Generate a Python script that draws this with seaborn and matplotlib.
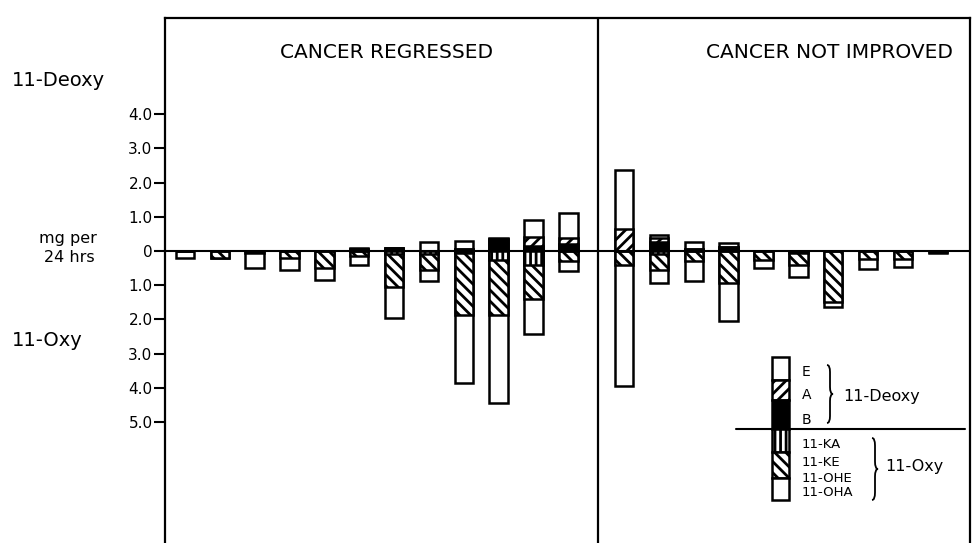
import numpy as np
import pandas as pd
import matplotlib
matplotlib.use("Agg")
import matplotlib.pyplot as plt
from matplotlib.patches import Rectangle, PathPatch
from matplotlib.path import Path
import seaborn as sns

# Urinary 17-ketosteroid fractions (mg per 24 hrs), one bar per patient.
# 11-Deoxy fractions (E, A, B) rise above zero, 11-Oxy fractions drop below.
regressed_E = [0, 0, 0, 0, 0, 0.05, 0, 0.25, 0.25, 0.03, 0.50, 0.74]
regressed_A = [0, 0, 0, 0, 0, 0, 0, 0, 0, 0, 0.25, 0.18]
regressed_B = [0, 0, 0, 0, 0, 0.05, 0.10, 0, 0.05, 0.35, 0.15, 0.20]
regressed_KA = [0, 0, 0, 0, 0, 0, 0.10, 0.10, 0.05, 0.25, 0.41, 0]
regressed_KE = [0, 0.20, 0.05, 0.20, 0.50, 0.15, 0.95, 0.45, 1.82, 1.62, 0.99, 0.28]
regressed_OH = [0.20, 0, 0.45, 0.35, 0.35, 0.25, 0.92, 0.33, 2.00, 2.58, 1.03, 0.30]

notimproved_E = [1.73, 0.10, 0.20, 0.10, 0, 0, 0, 0, 0, 0]
notimproved_A = [0.64, 0.10, 0, 0, 0, 0, 0, 0, 0, 0]
notimproved_B = [0, 0.27, 0.06, 0.13, 0, 0, 0, 0, 0, 0]
notimproved_KA = [0, 0.10, 0, 0, 0, 0.05, 0, 0, 0, 0]
notimproved_KE = [0.40, 0.45, 0.30, 0.95, 0.25, 0.35, 1.50, 0.22, 0.22, 0.03]
notimproved_OH = [3.55, 0.40, 0.58, 1.10, 0.25, 0.35, 0.15, 0.32, 0.25, 0.03]

group_titles = ["CANCER REGRESSED", "CANCER NOT IMPROVED"]
ytick_values = [4, 3, 2, 1, 0, -1, -2, -3, -4, -5]
ytick_labels = ["4.0", "3.0", "2.0", "1.0", "0", "1.0", "2.0", "3.0", "4.0", "5.0"]

# ---- layout ----------------------------------------------------------
GROUP_GAP = 1.6
n_left = len(regressed_E)
n_right = len(notimproved_E)
pos_left = np.arange(n_left, dtype=float)
pos_right = n_left - 1 + GROUP_GAP + np.arange(n_right, dtype=float)
divider_x = n_left - 1 + 0.85

df = pd.DataFrame({
    "pos": np.concatenate([pos_left, pos_right]),
    "E": regressed_E + notimproved_E,
    "A": regressed_A + notimproved_A,
    "B": regressed_B + notimproved_B,
    "KA": regressed_KA + notimproved_KA,
    "KE": regressed_KE + notimproved_KE,
    "OH": regressed_OH + notimproved_OH,
})
# cumulative stacks, drawn largest first so each smaller piece sits on top
df["deoxy_all"] = df["E"] + df["A"] + df["B"]
df["deoxy_AB"] = df["A"] + df["B"]
df["deoxy_B"] = df["B"]
df["oxy_all"] = -(df["KA"] + df["KE"] + df["OH"])
df["oxy_KAKE"] = -(df["KA"] + df["KE"])
df["oxy_KA"] = -df["KA"]

sns.set_style("white")
plt.rcParams["font.family"] = ["DejaVu Sans"]
plt.rcParams["text.color"] = "black"
plt.rcParams["ytick.color"] = "black"
plt.rcParams["axes.labelcolor"] = "black"
plt.rcParams["hatch.linewidth"] = 2.0
plt.rcParams["hatch.color"] = "black"

W, H = 974, 543
fig = plt.figure(figsize=(W / 100, H / 100), dpi=100)
ax_left_px, ax_right_px, ax_top_px = 165, 970, 18
ax = fig.add_axes([ax_left_px / W, 0, (ax_right_px - ax_left_px) / W, 1 - ax_top_px / H])

HATCH_A = "///"
HATCH_KE = "\\\\\\"
HATCH_KA = "|||"
EDGE_LW = 1.8
BAR_W = 0.53

layers = [
    ("deoxy_all", "white", None),
    ("deoxy_AB", "white", HATCH_A),
    ("deoxy_B", "black", None),
    ("oxy_all", "white", None),
    ("oxy_KAKE", "white", HATCH_KE),
    ("oxy_KA", "white", HATCH_KA),
]
for col, fc, hatch in layers:
    sns.barplot(data=df, x="pos", y=col, native_scale=True, orient="x",
                width=BAR_W, color=fc, saturation=1, errorbar=None,
                edgecolor="black", linewidth=EDGE_LW, hatch=hatch, ax=ax)

# ---- axes ------------------------------------------------------------
px_per_x = 34.85
px_per_y = 34.2
zero_px = 251
ax.set_xlim((ax_left_px - 185) / px_per_x, (ax_right_px - 185) / px_per_x)
ax.set_ylim(-(H - zero_px) / px_per_y, (zero_px - ax_top_px) / px_per_y)
ax.axhline(0, color="black", lw=1.5, zorder=5)
ax.axvline(divider_x, color="black", lw=1.6, zorder=5)

for side in ["left", "top", "right"]:
    ax.spines[side].set_visible(True)
    ax.spines[side].set_color("black")
    ax.spines[side].set_linewidth(1.6)
ax.spines["bottom"].set_visible(False)

ax.set_xticks([])
ax.set_yticks(ytick_values)
ax.set_yticklabels(ytick_labels)
ax.tick_params(axis="y", direction="out", length=8, width=1.5, pad=1,
               labelsize=11, left=True, colors="black")
ax.set_xlabel("")
ax.set_ylabel("")

# group titles
ax.text((387 - 185) / px_per_x, (zero_px - 52) / px_per_y, group_titles[0],
        ha="center", va="center", fontsize=14.5)
ax.text((830 - 185) / px_per_x, (zero_px - 52) / px_per_y, group_titles[1],
        ha="center", va="center", fontsize=14.5)

# outer side labels
fig.text(12 / W, 1 - 81 / H, "11-Deoxy", ha="left", va="center", fontsize=14)
fig.text(68 / W, 1 - 239 / H, "mg per", ha="center", va="center", fontsize=11.5)
fig.text(69 / W, 1 - 257 / H, "24 hrs", ha="center", va="center", fontsize=11.5)
fig.text(12 / W, 1 - 341 / H, "11-Oxy", ha="left", va="center", fontsize=14)

# ---- key -------------------------------------------------------------
def dx(px):
    return (px - 185) / px_per_x


def dy(px):
    return (zero_px - px) / px_per_y


key_x0, key_x1 = dx(772), dx(789)
key_segments = [
    (357, 380, "white", None),
    (380, 400, "white", HATCH_A),
    (400, 429, "black", None),
    (429, 452, "white", HATCH_KA),
    (452, 478, "white", HATCH_KE),
    (478, 500, "white", None),
]
for top, bot, fc, hatch in key_segments:
    ax.add_patch(Rectangle((key_x0, dy(bot)), key_x1 - key_x0, dy(top) - dy(bot),
                           facecolor=fc, edgecolor="black", lw=EDGE_LW,
                           hatch=hatch, zorder=6))
ax.plot([dx(736), dx(965)], [dy(429), dy(429)], color="black", lw=1.5, zorder=7)


def brace(x, y_top, y_bot, w):
    ym = (y_top + y_bot) / 2
    d = 0.12 * (y_top - y_bot)
    xm = x + w / 2
    verts = [(x, y_top), (xm, y_top), (xm, y_top - d), (xm, ym + d),
             (xm, ym), (x + w, ym), (xm, ym), (xm, ym - d),
             (xm, y_bot + d), (xm, y_bot), (x, y_bot)]
    codes = [Path.MOVETO, Path.CURVE3, Path.CURVE3, Path.LINETO,
             Path.CURVE3, Path.CURVE3, Path.CURVE3, Path.CURVE3,
             Path.LINETO, Path.CURVE3, Path.CURVE3]
    ax.add_patch(PathPatch(Path(verts, codes), facecolor="none",
                           edgecolor="black", lw=1.3, zorder=7))


brace(dx(827), dy(365), dy(423), 6 / px_per_x)
brace(dx(872), dy(438), dy(500), 6 / px_per_x)

key_fs = 10
for label, ypx in [("E", 372), ("A", 395), ("B", 420)]:
    ax.text(dx(802), dy(ypx), label, ha="left", va="center", fontsize=key_fs, zorder=8)
ax.text(dx(843), dy(397), "11-Deoxy", ha="left", va="center", fontsize=11.5, zorder=8)
for label, ypx in [("11-KA", 444), ("11-KE", 463), ("11-OHE", 478), ("11-OHA", 492)]:
    ax.text(dx(802), dy(ypx), label, ha="left", va="center", fontsize=9.5, zorder=8)
ax.text(dx(885), dy(466), "11-Oxy", ha="left", va="center", fontsize=11.5, zorder=8)

fig.savefig("out.png", dpi=100)
